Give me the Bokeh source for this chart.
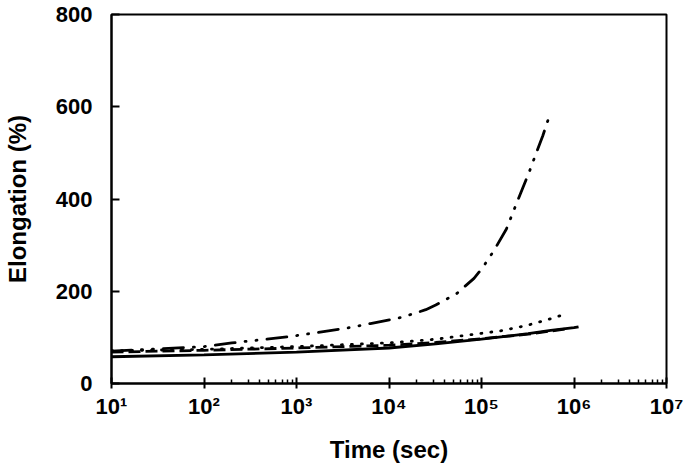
from bokeh.plotting import figure
from bokeh.models import FixedTicker
from bokeh.embed import file_html
from bokeh.resources import INLINE

# Data (time in seconds, elongation in %)
t_solid = [10, 100, 1e3, 1e4, 3.2e4, 1e5, 3.2e5, 5.6e5, 1.0e6, 1.12e6]
e_solid = [58, 62, 68, 77, 86, 96, 108, 115, 121, 123]

t_dash = [10, 100, 1e3, 1e4, 3.2e4, 1e5, 3.2e5, 8e5]
e_dash = [68, 72, 77, 83, 89, 97, 107, 118]

t_dot = [10, 100, 1e3, 1e4, 3.2e4, 7.1e4, 1.6e5, 3.1e5, 5.1e5, 7.4e5]
e_dot = [71, 74, 80, 88, 96, 105, 114, 126, 138, 148]

t_ddot = [10, 32, 100, 200, 870, 1.6e3, 3.5e3, 6.3e3, 1.35e4, 2.5e4, 3.2e4, 5.4e4,
          8.3e4, 1.02e5, 1.38e5, 1.86e5, 2.5e5, 3.3e5, 3.7e5, 4.6e5, 5.5e5]
e_ddot = [70, 75, 80, 88, 102, 110, 120, 130, 143, 160, 170, 195,
          228, 250, 290, 335, 400, 460, 487, 537, 584]

x_ticks = [10, 1e2, 1e3, 1e4, 1e5, 1e6, 1e7]
x_labels = ["10¹", "10²", "10³", "10⁴", "10⁵", "10⁶", "10⁷"]
x_minor = [m * d for d in (1e2, 1e4, 1e6) for m in range(2, 10)]
y_ticks = [0, 200, 400, 600, 800]

FONT = "Liberation Sans"

p = figure(width=690, height=466, x_axis_type="log", x_range=(10, 1e7), y_range=(0, 800),
           output_backend="svg", toolbar_location=None,
           min_border_left=110, min_border_right=24, min_border_top=14, min_border_bottom=83)
p.grid.visible = False
p.outline_line_color = "black"
p.outline_line_width = 2
p.background_fill_color = "white"
p.border_fill_color = "white"

lw = 2.8
p.line(t_solid, e_solid, line_color="black", line_width=lw)
p.line(t_dash, e_dash, line_color="black", line_width=lw, line_dash="12 5")
p.line(t_dot, e_dot, line_color="black", line_width=lw, line_dash="1 9", line_cap="round")
p.line(t_ddot, e_ddot, line_color="black", line_width=lw, line_dash="20 10 1 10 1 10", line_cap="round")

xa = p.xaxis[0]
xa.ticker = FixedTicker(ticks=x_ticks, minor_ticks=x_minor)
xa.major_label_overrides = {float(t): l for t, l in zip(x_ticks, x_labels)}
xa.axis_label = "Time (sec)"
ya = p.yaxis[0]
ya.ticker = FixedTicker(ticks=y_ticks)
ya.axis_label = "Elongation (%)"

for ax in (xa, ya):
    ax.axis_line_width = 2
    ax.axis_line_color = "black"
    ax.major_tick_line_width = 2
    ax.minor_tick_line_width = 1.5
    ax.major_label_text_font = FONT
    ax.major_label_text_font_style = "bold"
    ax.major_label_text_font_size = "22px"
    ax.major_label_text_color = "black"
    ax.axis_label_text_font = FONT
    ax.axis_label_text_font_style = "bold"
    ax.axis_label_text_font_size = "24px"
    ax.axis_label_text_color = "black"

xa.major_tick_in = 6
xa.major_tick_out = 5
xa.minor_tick_in = 4
xa.minor_tick_out = 0
xa.major_label_standoff = 5
xa.axis_label_standoff = 14

ya.major_tick_in = 8
ya.major_tick_out = 0
ya.minor_tick_in = 0
ya.minor_tick_out = 0
ya.major_label_standoff = 19
ya.axis_label_standoff = 22

open("out.html", "w").write(file_html(p, INLINE))
